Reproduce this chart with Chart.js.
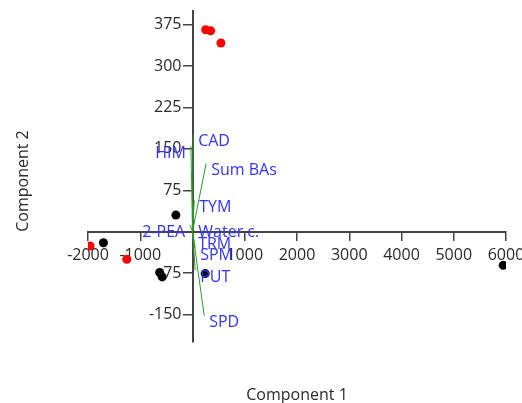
<!DOCTYPE html>
<html><head><meta charset="utf-8">
<script src="https://cdn.jsdelivr.net/npm/chart.js@4/dist/chart.umd.min.js"></script>
<style>html,body{margin:0;padding:0;background:#fff}#wrap{width:522px;height:403px}</style>
</head><body><div id="wrap"><canvas id="c" width="522" height="403"></canvas></div>
<script>
const xTicks = [-2000, -1000, 0, 1000, 2000, 3000, 4000, 5000, 6000];
const yTicks = [-150, -75, 0, 75, 150, 225, 300, 375];
const blackX = [-1705, -628, -580, -318, 243, 5946];
const blackY = [-20, -74, -82, 30, -76, -61];
const redX = [253, 349, 544, -1960, -1257];
const redY = [366, 364, 342, -26, -50];
const loadingNames = ['CAD', 'HIM', 'Sum BAs', 'TYM', '2-PEA', 'Water c.', 'TRM', 'SPM', 'PUT', 'SPD'];
const loadingX = [13, -30, 262, 33, -44, 15, 13, 52, 52, 224];
const loadingY = [177, 155, 124, 57, 12, 12, -10, -30, -70, -152];
const xTitle = 'Component 1';
const yTitle = 'Component 2';

const FONT = '"Open Sans", sans-serif';
const TEXT = '#2a2a2a';
const toPts = (xs, ys) => xs.map((v, i) => ({x: v, y: ys[i]}));

const lineSets = loadingNames.map((n, i) => ({
  label: n,
  data: [{x: 0, y: 0}, {x: loadingX[i], y: loadingY[i]}],
  showLine: true,
  borderColor: '#2b9a2b',
  borderWidth: 1,
  pointRadius: 0,
  fill: false
}));

const labelPlugin = {
  id: 'labels',
  afterDatasetsDraw(chart) {
    const {ctx, scales: {x, y}, chartArea} = chart;
    ctx.save();
    // y tick labels
    ctx.font = '16px ' + FONT;
    ctx.fillStyle = TEXT;
    ctx.textAlign = 'right';
    ctx.textBaseline = 'middle';
    const ax = x.getPixelForValue(0);
    yTicks.forEach(v => {
      if (v === 0) return;
      ctx.fillText(String(v), ax - 11, y.getPixelForValue(v));
    });
    // loading labels
    ctx.fillStyle = '#3333ff';
    loadingNames.forEach((n, i) => {
      const px = x.getPixelForValue(loadingX[i]);
      const py = y.getPixelForValue(loadingY[i]);
      if (loadingX[i] < 0) { ctx.textAlign = 'right'; ctx.fillText(n, px - 5, py + 7); }
      else { ctx.textAlign = 'left'; ctx.fillText(n, px + 5, py + 7); }
    });
    // axis titles
    ctx.fillStyle = TEXT;
    ctx.textAlign = 'center';
    ctx.textBaseline = 'alphabetic';
    ctx.fillText(xTitle, (chartArea.left + chartArea.right) / 2, 400);
    ctx.translate(28, 181);
    ctx.rotate(-Math.PI / 2);
    ctx.fillText(yTitle, 0, 0);
    ctx.restore();
  }
};

const zeroFit = (s) => { s.paddingLeft = 0; s.paddingRight = 0; s.paddingTop = 0; s.paddingBottom = 0; };

new Chart(document.getElementById('c'), {
  type: 'scatter',
  data: {
    datasets: [
      ...lineSets,
      {label: 'black', data: toPts(blackX, blackY), backgroundColor: '#000', borderWidth: 0, pointRadius: 4.5},
      {label: 'red', data: toPts(redX, redY), backgroundColor: '#ff0000', borderWidth: 0, pointRadius: 4.5}
    ]
  },
  options: {
    responsive: false,
    animation: false,
    devicePixelRatio: 1,
    layout: {padding: {left: 88, right: 16, top: 11, bottom: 61}},
    plugins: {legend: {display: false}, tooltip: {enabled: false}},
    scales: {
      x: {
        type: 'linear', min: -2000, max: 6000, position: {y: 0},
        afterBuildTicks: s => { s.ticks = xTicks.map(v => ({value: v})); },
        afterFit: s => { s.height = 0; zeroFit(s); },
        grid: {display: true, drawOnChartArea: false, drawTicks: true, tickLength: 8, color: '#444', lineWidth: 1.5},
        border: {display: true, color: '#444', width: 2},
        ticks: {color: TEXT, font: {family: FONT, size: 16}, padding: 6, autoSkip: false, maxRotation: 0,
                callback: v => v === 0 ? '' : String(v)}
      },
      y: {
        type: 'linear', min: -200, max: 400, position: {x: 0},
        afterBuildTicks: s => { s.ticks = yTicks.map(v => ({value: v})); },
        afterFit: s => { s.width = 0; zeroFit(s); },
        grid: {display: true, drawOnChartArea: false, drawTicks: true, tickLength: 9, color: '#444', lineWidth: 1.5},
        border: {display: true, color: '#444', width: 2},
        ticks: {display: false}
      }
    }
  },
  plugins: [labelPlugin]
});
</script></body></html>
